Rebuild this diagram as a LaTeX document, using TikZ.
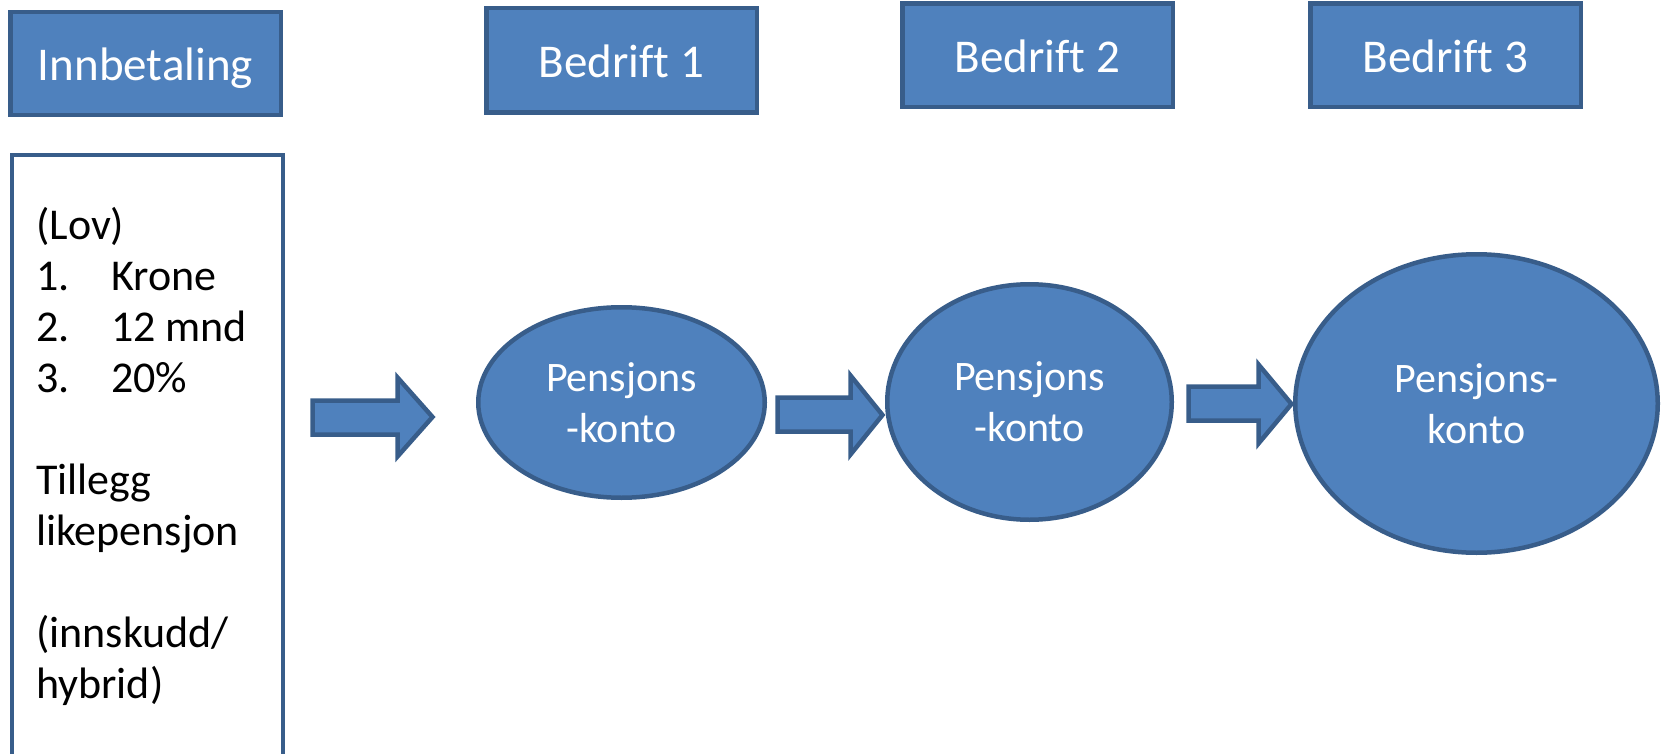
\documentclass[tikz,border=0pt]{standalone}
\usepackage{fontspec}
\setmainfont{Carlito}[Ligatures=NoCommon]
\usetikzlibrary{shapes.geometric}
\definecolor{boxfill}{HTML}{4F81BD}
\definecolor{boxline}{HTML}{385D8A}
\begin{document}
\begin{tikzpicture}[x=1pt,y=-1pt,
  head/.style={draw=boxline, fill=boxfill, line width=4.5pt, rectangle,
    minimum width=270.5pt, minimum height=103pt, inner sep=0pt, text=white,
    font=\fontsize{47}{56}\selectfont, text height=34pt, text depth=0pt},
  konto/.style={draw=boxline, fill=boxfill, line width=4.5pt, ellipse,
    inner sep=0pt, text=white, align=center, font=\fontsize{42}{51}\selectfont},
  plainbox/.style={draw=boxline, fill=white, line width=4pt, rectangle, inner sep=0pt},
  blockarrow/.style={draw=boxline, fill=boxfill, line width=4.5pt, line join=miter}]
\useasboundingbox (0,0) rectangle (1665,754);

% header boxes
\node[head] (innb) at (145.5,63.5) {Innbetaling};
\node[head, minimum height=104.5pt] (b1) at (621.5,60.5) {Bedrift 1};
\node[head, minimum height=103.5pt] (b2) at (1037.5,55.5) {Bedrift 2};
\node[head, minimum height=103.5pt] (b3) at (1445.5,55.5) {Bedrift 3};

% left text box
\node[plainbox, anchor=north west, minimum width=271pt, minimum height=700pt] (lovbox) at (10,153) {};
\node[anchor=base west, inner sep=0pt, font=\fontsize{44}{51}\selectfont] (lovtext) at (36,240)
  {\parbox[t]{240pt}{(Lov)\\
   \makebox[75pt][l]{1.}Krone\\
   \makebox[75pt][l]{2.}12 mnd\\
   \makebox[75pt][l]{3.}20\%\\
   \mbox{}\\
   Tillegg\\
   likepensjon\\
   \mbox{}\\
   (innskudd/\\
   hybrid)}};

% pension accounts
\node[konto, minimum width=286.5pt, minimum height=190.5pt] (k1) at (621.5,402.5) {Pensjons\\-konto};
\node[konto, minimum width=284.5pt, minimum height=235.5pt] (k2) at (1029.5,402) {Pensjons\\-konto};
\node[konto, minimum width=362.5pt, minimum height=298.5pt] (k3) at (1476.5,403.5) {Pensjons-\\konto};

% block arrows
\draw[blockarrow] (312.5,400.5) -- (397.5,400.5) -- (397.5,377.5) -- (432.5,417) -- (397.5,456.5) -- (397.5,434.5) -- (312.5,434.5) -- cycle;
\draw[blockarrow] (777.5,397.5) -- (850.5,397.5) -- (850.5,375.5) -- (882.5,415) -- (850.5,454.5) -- (850.5,431.5) -- (777.5,431.5) -- cycle;
\draw[blockarrow] (1188.5,386.5) -- (1258.5,386.5) -- (1258.5,364.5) -- (1291.5,404) -- (1258.5,443.5) -- (1258.5,420.5) -- (1188.5,420.5) -- cycle;
\end{tikzpicture}
\end{document}
